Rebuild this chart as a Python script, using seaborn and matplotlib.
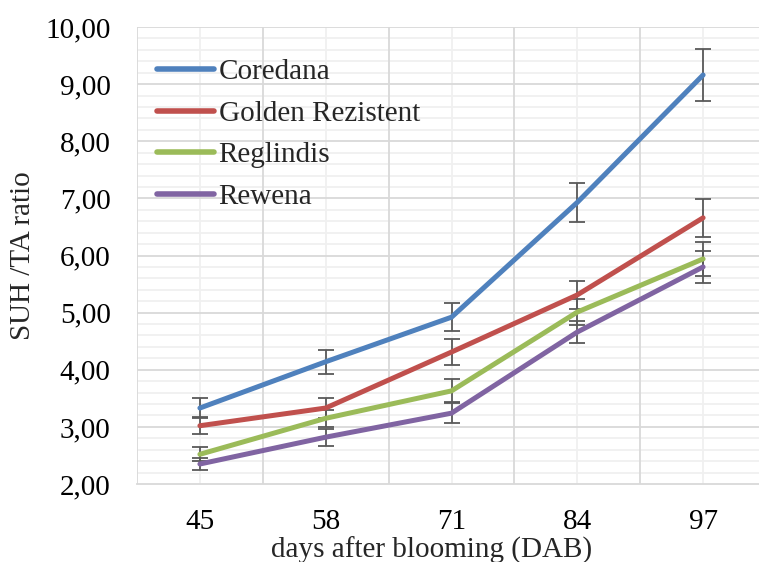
import numpy as np
import pandas as pd
import seaborn as sns
import matplotlib
matplotlib.use("Agg")
import matplotlib.pyplot as plt
from matplotlib.ticker import MultipleLocator, FixedLocator, FuncFormatter

days = ["45", "58", "71", "84", "97"]
series_names = ["Coredana", "Golden Rezistent", "Reglindis", "Rewena"]
coredana = [3.33, 4.14, 4.92, 6.93, 9.16]
golden = [3.02, 3.33, 4.31, 5.31, 6.66]
reglindis = [2.52, 3.15, 3.63, 5.01, 5.94]
rewena = [2.35, 2.82, 3.24, 4.66, 5.80]
coredana_err = [0.17, 0.21, 0.24, 0.34, 0.46]
golden_err = [0.15, 0.17, 0.22, 0.25, 0.33]
reglindis_err = [0.12, 0.15, 0.20, 0.22, 0.30]
rewena_err = [0.11, 0.15, 0.17, 0.19, 0.28]
colors = ["#4F81BD", "#C0504D", "#9BBB59", "#8064A2"]

values = [coredana, golden, reglindis, rewena]
errors = [coredana_err, golden_err, reglindis_err, rewena_err]

rows = []
for name, vals, errs in zip(series_names, values, errors):
    for i, (d, v, e) in enumerate(zip(days, vals, errs)):
        rows.append({"pos": i, "day": d, "series": name, "value": v, "err": e})
df = pd.DataFrame(rows)

sns.set_style("white")
plt.rcParams["font.family"] = ["Liberation Serif", "DejaVu Serif"]
FS = 21

fig = plt.figure(figsize=(7.59, 5.62), dpi=100)
ax = fig.add_axes([137 / 759, 78 / 562, 629 / 759, 457 / 562])

# error bars first (below lines)
for name, c in zip(series_names, colors):
    sub = df[df["series"] == name]
    ax.errorbar(sub["pos"], sub["value"], yerr=sub["err"], fmt="none",
                ecolor="#595959", elinewidth=1.3, capsize=5.5, capthick=1.3, zorder=3)

sns.lineplot(data=df, x="pos", y="value", hue="series", hue_order=series_names,
             palette=colors, linewidth=3.6, ax=ax, zorder=4, legend=True)
for ln in ax.lines:
    ln.set_solid_capstyle("round")

ax.set_xlim(-0.5, 4.5)
ax.set_ylim(2, 10)
ax.xaxis.set_major_locator(FixedLocator([0, 1, 2, 3, 4]))
ax.set_xticklabels(days)
ax.yaxis.set_major_locator(MultipleLocator(1))
ax.yaxis.set_minor_locator(MultipleLocator(0.2))
ax.yaxis.set_major_formatter(FuncFormatter(lambda v, p: f"{v:.2f}".replace(".", ",")))

# grid lines
for y in np.arange(2.2, 10.0, 0.2):
    if abs(y - round(y)) > 1e-6:
        ax.axhline(y, color="#F0F0F0", lw=1.3, zorder=0)
for y in range(3, 11):
    ax.axhline(y, color="#D9D9D9", lw=1.3, zorder=1)
for x in range(5):
    ax.axvline(x, color="#F0F0F0", lw=1.3, zorder=0)
for x in np.arange(-0.5, 5.0, 1.0):
    ax.axvline(x, color="#D9D9D9", lw=1.3, zorder=1)

for s in ["top", "right", "left"]:
    ax.spines[s].set_visible(False)
ax.spines["bottom"].set_color("#D9D9D9")
ax.spines["bottom"].set_linewidth(1.3)

ax.tick_params(axis="both", which="both", length=0, labelsize=FS, colors="black")
ax.tick_params(axis="x", pad=18)
ax.tick_params(axis="y", pad=19)

ax.set_xlabel("days after blooming (DAB)", fontsize=FS)
ax.xaxis.set_label_coords((432 - 137) / 629, -0.115)
ax.set_ylabel("SUH /TA ratio", fontsize=FS)
ax.yaxis.set_label_coords(-(137 - 36) / 629, 0.5)

handles, labels = ax.get_legend_handles_labels()
leg = ax.legend(handles, labels, loc="upper left", bbox_to_anchor=(0.0, 0.975),
                frameon=False, fontsize=FS, handlelength=1.95, handletextpad=0.15,
                labelspacing=0.52, borderaxespad=0.5, borderpad=0.2)
for lh in leg.get_lines():
    lh.set_linewidth(4.0)
    lh.set_solid_capstyle("round")

fig.savefig("out.png", dpi=100)
